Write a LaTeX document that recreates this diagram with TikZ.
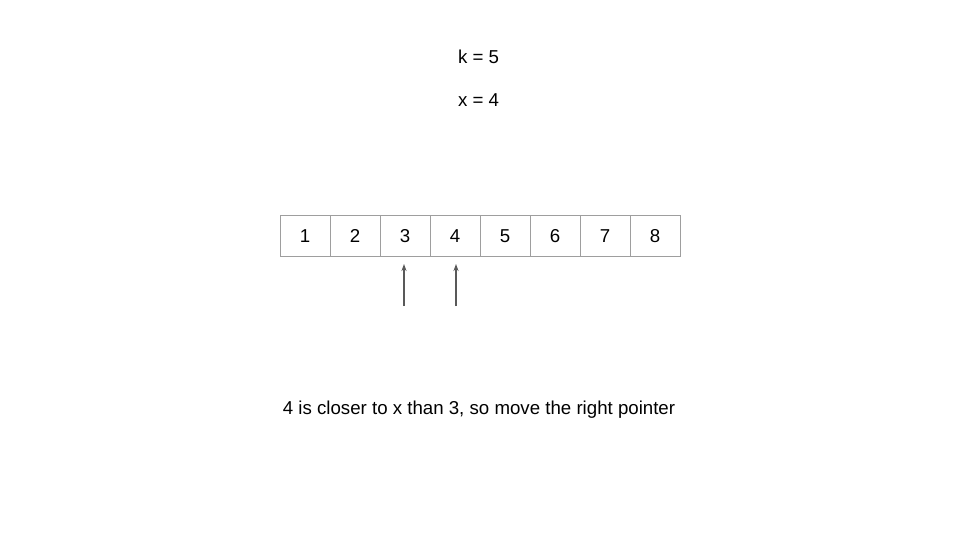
\documentclass[tikz,border=0pt]{standalone}
\usepackage{fontspec}
\setmainfont{Liberation Sans}
\usetikzlibrary{arrows.meta}
\tikzset{
  cell/.style={draw=black!38, line width=1pt, minimum width=50pt, minimum height=41pt, inner sep=0pt, outer sep=0pt, text height=13.4pt, text depth=0pt, font=\fontsize{18.67pt}{22pt}\selectfont},
  lbl/.style={inner sep=0pt, font=\fontsize{18.67pt}{22pt}\selectfont},
  ptr/.style={draw=black!65, line width=1.2pt, -{Stealth[length=7pt,width=5pt]}}
}
\begin{document}
\begin{tikzpicture}[x=1pt,y=-1pt]
\useasboundingbox (0,0) rectangle (960,540);
\fill[white] (0,0) rectangle (960,540);
\node[lbl] (k) at (478.5,57) {k = 5};
\node[lbl] (xv) at (478.5,100) {x = 4};
\foreach \i in {1,...,8}{
  \node[cell] (c\i) at (255+50*\i,235.5) {\i};
}
\coordinate (p1s) at (404,306);
\coordinate (p1e) at (404,264);
\coordinate (p2s) at (456,306);
\coordinate (p2e) at (456,264);
\draw[ptr] (p1s) -- (p1e);
\draw[ptr] (p2s) -- (p2e);
\node[lbl, anchor=base] (msg) at (479,414) {4 is closer to x than 3, so move the right pointer};
\end{tikzpicture}
\end{document}
